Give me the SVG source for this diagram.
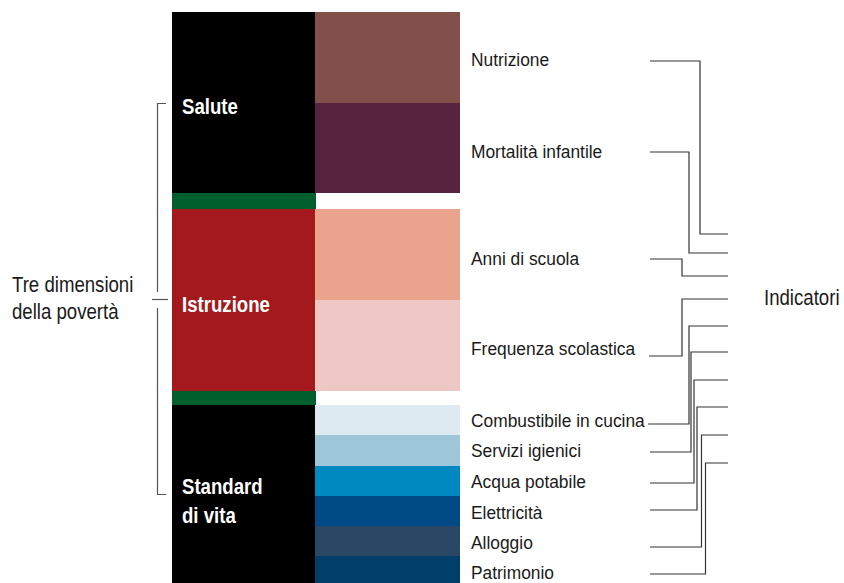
<svg xmlns="http://www.w3.org/2000/svg" width="844" height="583" viewBox="0 0 844 583">
<style>
.lbl{font-family:"Liberation Sans",Arial,sans-serif;font-size:18.3px;fill:#1a1a1a}
.big{font-family:"Liberation Sans",Arial,sans-serif;font-size:23px;fill:#1a1a1a}
.dim{font-family:"Liberation Sans",Arial,sans-serif;font-size:23px;font-weight:bold;fill:#ffffff}
.con{fill:none;stroke:#333;stroke-width:1.2}
.br{fill:none;stroke:#555;stroke-width:1.2}
</style>
<rect width="844" height="583" fill="#ffffff"/>

<g id="salute">
<rect x="172" y="12" width="143" height="181" fill="#000000"/>
<text class="dim" transform="translate(182,114) scale(0.81,1)">Salute</text>
</g>
<g id="sep1"><rect x="172" y="193" width="144" height="16" fill="#005F2D"/></g>
<g id="istruzione">
<rect x="172" y="209" width="143" height="182" fill="#A3191D"/>
<text class="dim" transform="translate(182,312) scale(0.81,1)">Istruzione</text>
</g>
<g id="sep2"><rect x="172" y="391" width="144" height="14" fill="#005F2D"/></g>
<g id="standard">
<rect x="172" y="405" width="143" height="178" fill="#000000"/>
<text class="dim" transform="translate(182,494) scale(0.81,1)">Standard</text>
<text class="dim" transform="translate(182,523) scale(0.81,1)">di vita</text>
</g>

<g id="nutrizione">
<rect x="315" y="12" width="145" height="91" fill="#834F4A"/>
<text class="lbl" transform="translate(471,66) scale(0.95,1)">Nutrizione</text>
</g>
<g id="mortalita">
<rect x="315" y="103" width="145" height="90" fill="#57233E"/>
<text class="lbl" transform="translate(471,158) scale(0.95,1)">Mortalità infantile</text>
</g>
<g id="anni">
<rect x="315" y="209" width="145" height="91" fill="#EAA38D"/>
<text class="lbl" transform="translate(471,265) scale(0.95,1)">Anni di scuola</text>
</g>
<g id="frequenza">
<rect x="315" y="300" width="145" height="91" fill="#ECC7C4"/>
<text class="lbl" transform="translate(471,355) scale(0.95,1)">Frequenza scolastica</text>
</g>
<g id="combustibile">
<rect x="315" y="405" width="145" height="30" fill="#DDEAF2"/>
<text class="lbl" transform="translate(471,427) scale(0.95,1)">Combustibile in cucina</text>
</g>
<g id="servizi">
<rect x="315" y="435" width="145" height="31" fill="#9DC6D9"/>
<text class="lbl" transform="translate(471,457) scale(0.95,1)">Servizi igienici</text>
</g>
<g id="acqua">
<rect x="315" y="466" width="145" height="30" fill="#0088C0"/>
<text class="lbl" transform="translate(471,488) scale(0.95,1)">Acqua potabile</text>
</g>
<g id="elettricita">
<rect x="315" y="496" width="145" height="30" fill="#004A86"/>
<text class="lbl" transform="translate(471,519) scale(0.95,1)">Elettricità</text>
</g>
<g id="alloggio">
<rect x="315" y="526" width="145" height="30" fill="#2A4766"/>
<text class="lbl" transform="translate(471,549) scale(0.95,1)">Alloggio</text>
</g>
<g id="patrimonio">
<rect x="315" y="556" width="145" height="27" fill="#003F6A"/>
<text class="lbl" transform="translate(471,579) scale(0.95,1)">Patrimonio</text>
</g>

<g id="tre-dimensioni">
<text class="big" transform="translate(12,292) scale(0.81,1)">Tre dimensioni</text>
<text class="big" transform="translate(12,319) scale(0.81,1)">della povertà</text>
</g>
<g id="indicatori">
<text class="big" transform="translate(764,305) scale(0.81,1)">Indicatori</text>
</g>

<g id="connectors">
<path class="br" d="M166,103.5 H157.5 V292"/>
<path class="br" d="M152,299.5 H168"/>
<path class="br" stroke="#222" d="M157.5,308 V494.5 H166"/>
<path class="con" d="M650,61 H700 V234 H728"/>
<path class="con" d="M650,152 H689 V253 H728"/>
<path class="con" d="M650,259 H682 V276 H728"/>
<path class="con" d="M649,356 H682 V299 H728"/>
<path class="con" d="M648,424 H689 V326 H728"/>
<path class="con" d="M650,452 H691 V352 H728"/>
<path class="con" d="M650,483 H694 V380 H728"/>
<path class="con" d="M650,510 H697 V407 H728"/>
<path class="con" d="M650,547 H701.5 V435 H728"/>
<path class="con" d="M650,574 H705.5 V463 H728"/>
</g>
</svg>
